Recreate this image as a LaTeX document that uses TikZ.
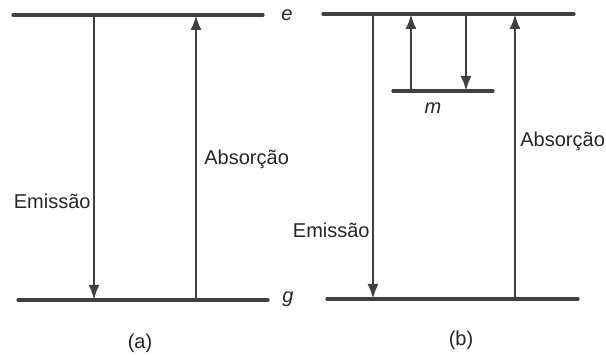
\documentclass[tikz,border=0pt]{standalone}
\usepackage{fontspec}
\setmainfont{Liberation Sans}
\usetikzlibrary{arrows.meta}

\begin{document}
\begin{tikzpicture}[x=0.5pt,y=-0.5pt,
  level/.style={line width=1.6pt,draw=black!75,line cap=round},
  arr/.style={-{Latex[length=7.5pt,width=5.5pt]},line width=1.2pt,draw=black!75,fill=black!75},
  lab/.style={font=\normalsize,text=black!85,inner sep=1pt}]
\useasboundingbox (0,0) rectangle (606,356);
% (a)
\coordinate (ae1) at (13,15); \coordinate (ae2) at (263,15);
\coordinate (ag1) at (18,300); \coordinate (ag2) at (268,300);
\draw[level] (ae1) -- (ae2);
\draw[level] (ag1) -- (ag2);
\node[lab,anchor=west] (ae) at (279,15) {\itshape e};
\node[lab,anchor=west] (ag) at (280,299) {\itshape g};
\coordinate (aet) at (94,15); \coordinate (agt) at (94,300);
\coordinate (aeb) at (196,15); \coordinate (agb) at (196,300);
\draw[arr] (aet) -- (agt);
\draw[arr] (agb) -- (aeb);
\node[lab,anchor=east] (aem) at (93,201) {Emissão};
\node[lab,anchor=west] (aab) at (202,159) {Absorção};
\node[lab] (a) at (140,343) {(a)};
% (b)
\coordinate (be1) at (323,14); \coordinate (be2) at (574,14);
\coordinate (bg1) at (327,299); \coordinate (bg2) at (578,299);
\coordinate (bm1) at (393,91); \coordinate (bm2) at (493,91);
\draw[level] (be1) -- (be2);
\draw[level] (bg1) -- (bg2);
\draw[level] (bm1) -- (bm2);
\node[lab] (bm) at (433,108) {\itshape m};
\coordinate (bet) at (373,14); \coordinate (bgt) at (373,299);
\coordinate (beb) at (515,14); \coordinate (bgb) at (515,299);
\coordinate (bmu) at (411,91); \coordinate (beu) at (411,14);
\coordinate (bed) at (466,14); \coordinate (bmd) at (466,91);
\draw[arr] (bet) -- (bgt);
\draw[arr] (bgb) -- (beb);
\draw[arr] (bmu) -- (beu);
\draw[arr] (bed) -- (bmd);
\node[lab,anchor=east] (bem) at (372,230) {Emissão};
\node[lab,anchor=west] (bab) at (518,141) {Absorção};
\node[lab] (b) at (461,340) {(b)};
\end{tikzpicture}
\end{document}
